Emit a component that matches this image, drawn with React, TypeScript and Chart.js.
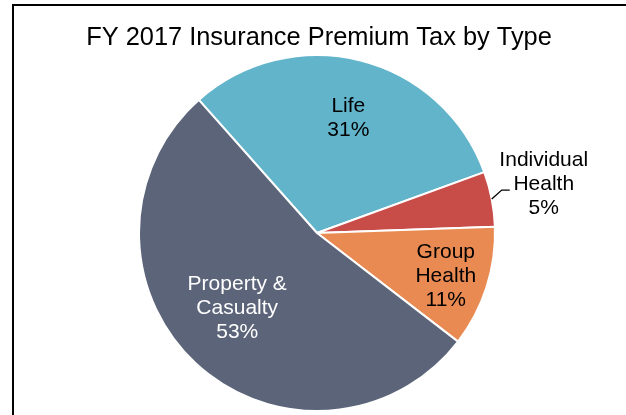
import React, { useEffect, useRef } from "react";
import { Chart, registerables } from "chart.js";

Chart.register(...registerables);

const TITLE = "FY 2017 Insurance Premium Tax by Type";
const categories = ["Life", "Individual Health", "Group Health", "Property & Casualty"];
const labelLines = [["Life"], ["Individual", "Health"], ["Group", "Health"], ["Property &", "Casualty"]];
const shares = [31, 5, 11, 53];
const colors = ["#62b4cb", "#c84c48", "#e98a52", "#5b6479"];
const textColors = ["#000000", "#000000", "#000000", "#ffffff"];
// radial position of inside labels as fraction of radius (null = outside with leader)
const labelRadius = [0.68, null, 0.76, 0.607];
const labelAngleShift = [0.8, 0, 0, 4.6];

const FONT = "'Liberation Sans', Arial, sans-serif";

const decorPlugin = {
  id: "decor",
  beforeDraw(chart: any) {
    const ctx = chart.ctx;
    ctx.save();
    ctx.fillStyle = "#ffffff";
    ctx.fillRect(0, 0, chart.width, chart.height);
    ctx.fillStyle = "#000000";
    ctx.fillRect(12, 4, chart.width - 12, 2);
    ctx.fillRect(12, 4, 2, chart.height - 4);
    ctx.font = `25.4px ${FONT}`;
    ctx.textAlign = "center";
    ctx.textBaseline = "alphabetic";
    ctx.fillText(TITLE, 319, 45);
    ctx.restore();
  },
  afterDraw(chart: any) {
    const ctx = chart.ctx;
    const meta = chart.getDatasetMeta(0);
    const total = shares.reduce((a, b) => a + b, 0);
    ctx.save();
    ctx.font = `21px ${FONT}`;
    ctx.textAlign = "center";
    ctx.textBaseline = "middle";
    meta.data.forEach((arc: any, i: number) => {
      const { x, y, startAngle, endAngle, outerRadius } = arc.getProps(
        ["x", "y", "startAngle", "endAngle", "outerRadius"],
        true
      );
      const mid = (startAngle + endAngle) / 2 + (labelAngleShift[i] * Math.PI) / 180;
      const pct = Math.round((shares[i] / total) * 100) + "%";
      const lines = [...labelLines[i], pct];
      const lh = 24;
      ctx.fillStyle = textColors[i];
      if (labelRadius[i] !== null) {
        const r = outerRadius * (labelRadius[i] as number);
        const cx = x + Math.cos(mid) * r;
        const cy = y + Math.sin(mid) * r + 2;
        lines.forEach((t, k) => {
          ctx.fillText(t, cx, cy + (k - (lines.length - 1) / 2) * lh);
        });
      } else {
        const ex = x + Math.cos(mid) * outerRadius;
        const ey = y + Math.sin(mid) * outerRadius;
        const kx = ex + 10;
        const ky = ey - 9;
        ctx.strokeStyle = "#000000";
        ctx.lineWidth = 1.3;
        ctx.beginPath();
        ctx.moveTo(ex, ey);
        ctx.lineTo(kx, ky);
        ctx.lineTo(kx + 8, ky);
        ctx.stroke();
        const cx = kx + 42;
        const cy = ky - 6;
        lines.forEach((t, k) => {
          ctx.fillText(t, cx, cy + (k - (lines.length - 1) / 2) * lh);
        });
      }
    });
    ctx.restore();
  },
};

export default function App() {
  const ref = useRef<HTMLCanvasElement | null>(null);
  useEffect(() => {
    if (!ref.current) return;
    const chart = new Chart(ref.current, {
      type: "pie",
      data: {
        labels: categories,
        datasets: [
          {
            data: shares,
            backgroundColor: colors,
            borderColor: "#ffffff",
            borderWidth: 2,
          },
        ],
      },
      options: {
        responsive: false,
        animation: false,
        rotation: -41.6,
        layout: { padding: { left: 138, right: 130, top: 54, bottom: 3 } },
        plugins: {
          legend: { display: false },
          title: { display: false },
          tooltip: { enabled: false },
        },
      },
      plugins: [decorPlugin],
    });
    return () => chart.destroy();
  }, []);
  return (
    <div style={{ position: "fixed", left: 0, top: 0, width: 626, height: 415, background: "#fff" }}>
      <canvas ref={ref} width={626} height={415} style={{ width: 626, height: 415, display: "block" }} />
    </div>
  );
}
